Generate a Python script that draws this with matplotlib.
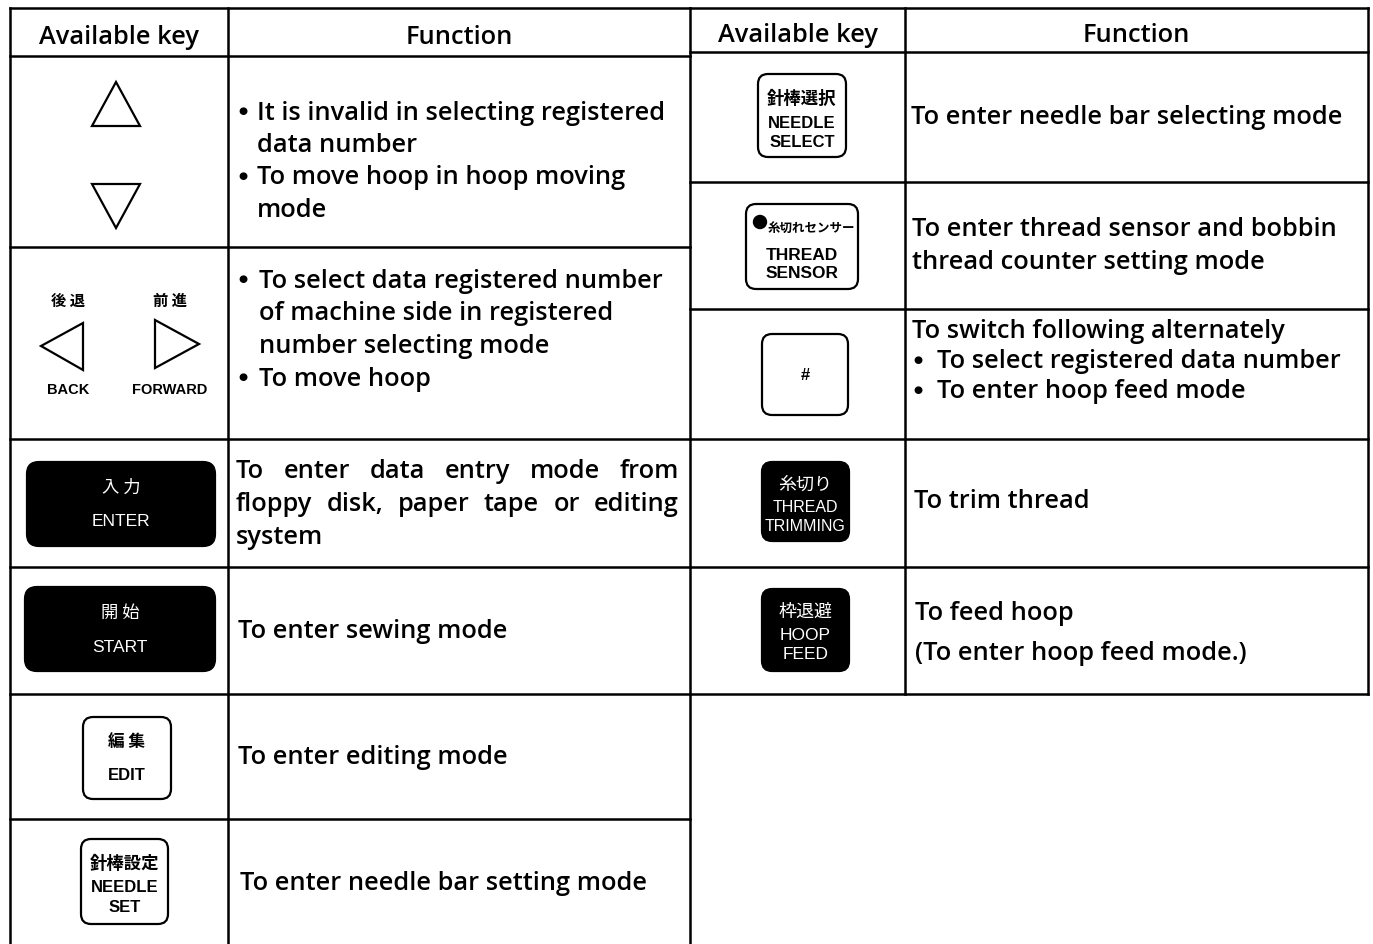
import matplotlib.pyplot as plt
from matplotlib.patches import FancyBboxPatch, Polygon, Circle

plt.rcParams['font.family'] = ['Open Sans', 'Noto Sans CJK JP', 'DejaVu Sans']

# table content
headers = ["Available key", "Function"]

left_keys = ["up_down", "back_forward", "ENTER", "START", "EDIT", "NEEDLE SET"]
left_functions = [
    ["• It is invalid in selecting registered", "  data number",
     "• To move hoop in hoop moving", "  mode"],
    ["• To select data registered number", "  of machine side in registered",
     "  number selecting mode", "• To move hoop"],
    ["To enter data entry mode from", "floppy disk, paper tape or editing", "system"],
    ["To enter sewing mode"],
    ["To enter editing mode"],
    ["To enter needle bar setting mode"],
]

right_keys = ["NEEDLE SELECT", "THREAD SENSOR", "#", "THREAD TRIMMING", "HOOP FEED"]
right_functions = [
    ["To enter needle bar selecting mode"],
    ["To enter thread sensor and bobbin", "thread counter setting mode"],
    ["To switch following alternately", "• To select registered data number",
     "• To enter hoop feed mode"],
    ["To trim thread"],
    ["To feed hoop", "(To enter hoop feed mode.)"],
]

key_labels = {
    "ENTER": ("入 力", ["ENTER"]),
    "START": ("開 始", ["START"]),
    "EDIT": ("編 集", ["EDIT"]),
    "NEEDLE SET": ("針棒設定", ["NEEDLE", "SET"]),
    "NEEDLE SELECT": ("針棒選択", ["NEEDLE", "SELECT"]),
    "THREAD SENSOR": ("糸切れセンサー", ["THREAD", "SENSOR"]),
    "THREAD TRIMMING": ("糸切り", ["THREAD", "TRIMMING"]),
    "HOOP FEED": ("枠退避", ["HOOP", "FEED"]),
}
arrow_labels = [("後 退", "BACK"), ("前 進", "FORWARD")]

# layout (pixels)
W, H = 1373, 945
L_cols = [10, 228, 690]
L_rows = [9, 57, 248, 440, 568, 695, 820]
R_cols = [690, 905, 1368]
R_rows = [9, 53, 183, 310, 440, 568, 695]
FS = 18.3
WT = 'semibold'
LW = 1.8
DY = 2  # small downward nudge for body text

fig = plt.figure(figsize=(W / 100, H / 100), dpi=100)
ax = fig.add_axes([0, 0, 1, 1])
ax.set_xlim(0, W)
ax.set_ylim(H, 0)
ax.axis('off')

# grid lines
for x in L_cols:
    ax.plot([x, x], [L_rows[0], H], color='black', lw=LW)
for y in L_rows:
    ax.plot([L_cols[0], L_cols[-1]], [y, y], color='black', lw=LW)
for x in R_cols[1:]:
    ax.plot([x, x], [R_rows[0], R_rows[-1]], color='black', lw=LW)
for y in R_rows:
    ax.plot([R_cols[0], R_cols[-1]], [y, y], color='black', lw=LW)

# headers
for cols, hy in [(L_cols, 38), (R_cols, 35)]:
    for i, h in enumerate(headers):
        ax.text((cols[i] + cols[i + 1]) / 2, hy, h,
                ha='center', va='center', fontsize=FS, fontweight=WT)

renderer = fig.canvas.get_renderer()


def txt(x, y, s, **kw):
    return ax.text(x, y + DY, s, va='center', fontsize=FS, fontweight=WT, **kw)


def bullet(x, y):
    ax.text(x, y + DY - 2, "●", va='center', ha='center', fontsize=7.5,
            family=['DejaVu Sans'])


def justify(line, x0, x1, y):
    words = line.split()
    texts = [txt(0, y, w) for w in words]
    widths = [t.get_window_extent(renderer).width for t in texts]
    gap = (x1 - x0 - sum(widths)) / (len(words) - 1)
    x = x0
    for t, w in zip(texts, widths):
        t.set_x(x)
        x += w + gap


def func_text(lines, x0, y0, step, indent=16, justify_to=None):
    for k, line in enumerate(lines):
        y = y0 + k * step
        if justify_to and k < len(lines) - 1:
            justify(line, x0, justify_to, y)
        elif line.startswith("• "):
            bullet(x0 + 2, y)
            txt(x0 + indent, y, line[2:])
        elif line.startswith("  "):
            txt(x0 + indent, y, line[2:])
        else:
            txt(x0, y, line)


# left functions
func_text(left_functions[0], 241, 111, 32.5, indent=16)
func_text(left_functions[1], 241, 279, 32.7, indent=18)
func_text(left_functions[2], 236, 470, 32.5, justify_to=679)
func_text(left_functions[3], 238, 629, 32)
func_text(left_functions[4], 238, 755, 32)
func_text(left_functions[5], 240, 882, 32)

# right functions
func_text(right_functions[0], 911, 116, 32)
func_text(right_functions[1], 912, 228, 32.5)
txt(912, 330, right_functions[2][0])
for k, line in enumerate(right_functions[2][1:]):
    bullet(918, 360 + k * 30)
    txt(937, 360 + k * 30, line[2:])
func_text(right_functions[3], 914, 499, 32)
func_text(right_functions[4], 915, 612, 40)

# arrow keys
ax.add_patch(Polygon([[92, 127], [140, 127], [116, 83]], closed=True,
                     fill=False, ec='black', lw=1.6))
ax.add_patch(Polygon([[92, 185], [140, 185], [116, 229]], closed=True,
                     fill=False, ec='black', lw=1.6))
ax.add_patch(Polygon([[83, 324], [83, 371], [41, 347]], closed=True,
                     fill=False, ec='black', lw=1.6))
ax.add_patch(Polygon([[155, 321], [155, 369], [199, 345]], closed=True,
                     fill=False, ec='black', lw=1.6))
for (jp, en), cx in zip(arrow_labels, [68, 170]):
    ax.text(cx, 301, jp, ha='center', va='center', fontsize=11,
            fontweight='bold', family=['Noto Sans CJK JP'])
    ax.text(cx, 390, en, ha='center', va='center', fontsize=10.5,
            fontweight='bold', family=['Liberation Sans'])


def key(name, x0, y0, x1, y1, dark, jp_y, en_y, jp_size=12.5, en_size=12,
        pad=10, jp_x=None, jp_ha='center', en_step=18.5):
    jp, en = key_labels[name]
    fc = 'black' if dark else 'white'
    tc = 'white' if dark else 'black'
    ax.add_patch(FancyBboxPatch((x0 + pad, y0 + pad), x1 - x0 - 2 * pad, y1 - y0 - 2 * pad,
                                boxstyle=f"round,pad={pad}", fc=fc, ec='black', lw=1.6))
    cx = (x0 + x1) / 2
    ax.text(jp_x if jp_x else cx, jp_y, jp, ha=jp_ha, va='center', fontsize=jp_size,
            color=tc, fontweight='normal' if dark else 'bold',
            family=['Noto Sans CJK JP'])
    for k, line in enumerate(en):
        ax.text(cx, en_y + k * en_step, line, ha='center', va='center', fontsize=en_size,
                color=tc, fontweight='normal' if dark else 'bold',
                family=['Liberation Sans'])


key("ENTER", 27, 463, 215, 547, True, 488, 522, pad=12, en_size=12.5)
key("START", 25, 588, 215, 672, True, 613, 647, pad=12, en_size=12.5)
key("EDIT", 83, 718, 171, 800, False, 742, 776, jp_size=12)
key("NEEDLE SET", 81, 840, 168, 925, False, 864, 888, jp_size=12.5, en_step=19)
key("NEEDLE SELECT", 758, 75, 846, 158, False, 99, 124, jp_size=12.5)
key("THREAD SENSOR", 746, 205, 858, 290, False, 229, 255, jp_size=9,
    en_size=12.5, jp_x=768, jp_ha='left')
key("THREAD TRIMMING", 762, 463, 849, 542, True, 485, 508, jp_size=13,
    en_size=11.5)
key("HOOP FEED", 762, 590, 849, 672, True, 612, 636, jp_size=13, en_size=12.5)

# thread sensor lamp
ax.add_patch(Circle((760, 223), 6.5, color='black'))

# '#' key
ax.add_patch(FancyBboxPatch((772, 345), 66, 61, boxstyle="round,pad=10",
                            fc='white', ec='black', lw=1.6))
ax.text(805, 376, right_keys[2], ha='center', va='center', fontsize=12,
        fontweight='bold', family=['Liberation Sans'])

fig.savefig('out.png', dpi=100)
